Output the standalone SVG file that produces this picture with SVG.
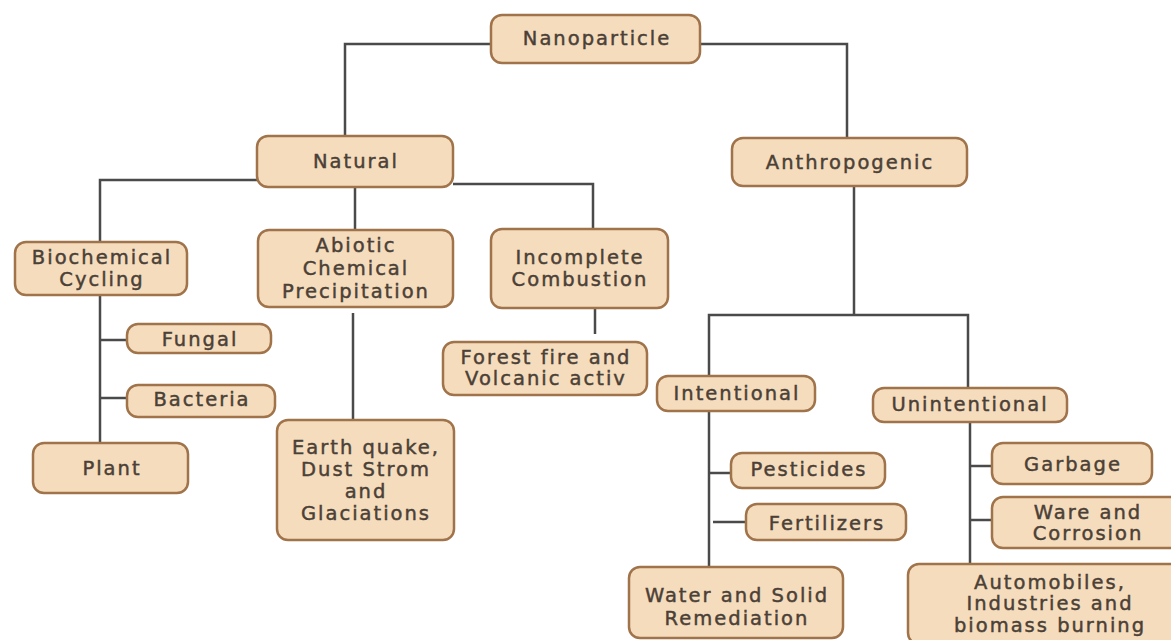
<svg xmlns="http://www.w3.org/2000/svg" width="1171" height="640" viewBox="0 0 1171 640">
<style>
.n{fill:#f4dcbd;stroke:#a0734a;stroke-width:2.5}
.t{font-family:"DejaVu Sans",sans-serif;font-size:19.5px;letter-spacing:2px;fill:#4b4036;stroke:#4b4036;stroke-width:0.45;text-anchor:middle}
.c{fill:none;stroke:#4a4a4a;stroke-width:2.5}
</style>
<rect width="1171" height="640" fill="#ffffff"/>
<g id="connectors">
<path class="c" d="M491,44 H345 V136"/>
<path class="c" d="M700,44 H847 V138"/>
<path class="c" d="M257,180 H100 V242"/>
<path class="c" d="M355,187 V230"/>
<path class="c" d="M453,184 H593 V229"/>
<path class="c" d="M595,308 V334"/>
<path class="c" d="M100,295 V443"/>
<path class="c" d="M100,340 H127"/>
<path class="c" d="M100,398 H127"/>
<path class="c" d="M353,313 V420"/>
<path class="c" d="M854,186 V315"/>
<path class="c" d="M709,376 V315 H968 V388"/>
<path class="c" d="M709,411 V567"/>
<path class="c" d="M709,473 H731"/>
<path class="c" d="M713,522 H746"/>
<path class="c" d="M970,422 V564"/>
<path class="c" d="M970,466 H992"/>
<path class="c" d="M970,520 H992"/>
</g>
<g id="nanoparticle"><rect class="n" x="491" y="15" width="209" height="48" rx="11"/><text class="t" x="597" y="45">Nanoparticle</text></g>
<g id="natural"><rect class="n" x="257" y="136" width="196" height="51" rx="11"/><text class="t" x="356" y="168">Natural</text></g>
<g id="anthropogenic"><rect class="n" x="732" y="138" width="235" height="48" rx="11"/><text class="t" x="850" y="169">Anthropogenic</text></g>
<g id="biochemical"><rect class="n" x="15" y="242" width="172" height="53" rx="11"/><text class="t" x="102" y="264">Biochemical</text><text class="t" x="102" y="286">Cycling</text></g>
<g id="abiotic"><rect class="n" x="258" y="230" width="195" height="77" rx="11"/><text class="t" x="356" y="252">Abiotic</text><text class="t" x="356" y="275">Chemical</text><text class="t" x="356" y="298">Precipitation</text></g>
<g id="incomplete"><rect class="n" x="491" y="229" width="177" height="79" rx="11"/><text class="t" x="580" y="264">Incomplete</text><text class="t" x="580" y="286">Combustion</text></g>
<g id="forest"><rect class="n" x="443" y="342" width="204" height="53" rx="11"/><text class="t" x="546" y="364">Forest fire and</text><text class="t" x="546" y="385">Volcanic activ</text></g>
<g id="fungal"><rect class="n" x="127" y="324" width="144" height="29" rx="11"/><text class="t" x="200" y="346">Fungal</text></g>
<g id="bacteria"><rect class="n" x="127" y="385" width="148" height="32" rx="11"/><text class="t" x="202" y="406">Bacteria</text></g>
<g id="plant"><rect class="n" x="33" y="443" width="155" height="50" rx="11"/><text class="t" x="112" y="475">Plant</text></g>
<g id="earth"><rect class="n" x="277" y="420" width="177" height="120" rx="11"/><text class="t" x="366" y="454">Earth quake,</text><text class="t" x="366" y="476">Dust Strom</text><text class="t" x="366" y="498">and</text><text class="t" x="366" y="520">Glaciations</text></g>
<g id="intentional"><rect class="n" x="657" y="376" width="158" height="35" rx="11"/><text class="t" x="737" y="400">Intentional</text></g>
<g id="pesticides"><rect class="n" x="731" y="453" width="154" height="35" rx="11"/><text class="t" x="809" y="476">Pesticides</text></g>
<g id="fertilizers"><rect class="n" x="746" y="504" width="160" height="36" rx="11"/><text class="t" x="827" y="530">Fertilizers</text></g>
<g id="water"><rect class="n" x="629" y="567" width="214" height="71" rx="11"/><text class="t" x="737" y="602">Water and Solid</text><text class="t" x="737" y="625">Remediation</text></g>
<g id="unintentional"><rect class="n" x="873" y="388" width="194" height="34" rx="11"/><text class="t" x="970" y="411">Unintentional</text></g>
<g id="garbage"><rect class="n" x="992" y="443" width="160" height="41" rx="11"/><text class="t" x="1073" y="471">Garbage</text></g>
<g id="ware"><rect class="n" x="992" y="497" width="190" height="51" rx="11"/><text class="t" x="1088" y="519">Ware and</text><text class="t" x="1088" y="540">Corrosion</text></g>
<g id="automobiles"><rect class="n" x="908" y="564" width="284" height="80" rx="11"/><text class="t" x="1050" y="589">Automobiles,</text><text class="t" x="1050" y="610">Industries and</text><text class="t" x="1050" y="632">biomass burning</text></g>
</svg>
